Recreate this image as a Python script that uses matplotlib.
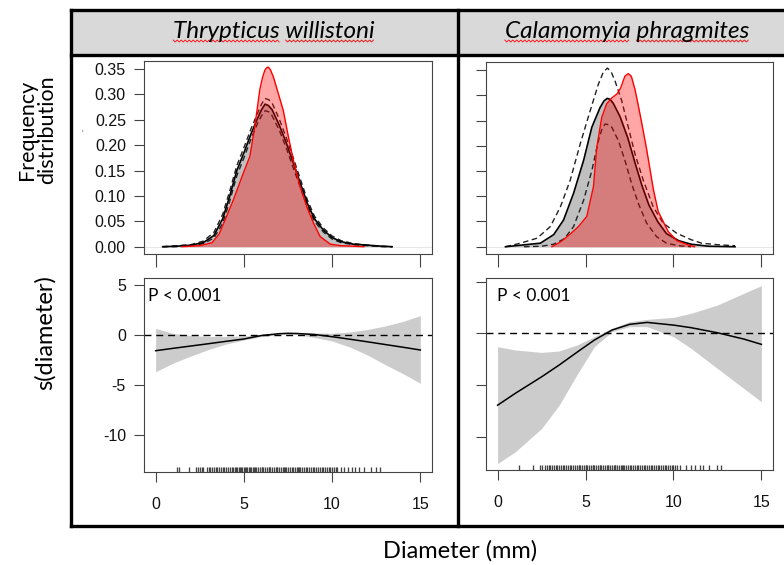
import numpy as np
import matplotlib
matplotlib.use('Agg')
import matplotlib.pyplot as plt
from matplotlib.lines import Line2D
from matplotlib.patches import Rectangle

# -------------------------------------------------------------------------
# Values
titles = ['Thrypticus willistoni', 'Calamomyia phragmites']

# top left: density of diameters (black = expected, dashed = bounds, red = observed)
tl_x = [0.4, 1.2, 2.0, 2.7, 3.3, 3.8, 4.2, 4.6, 5.0, 5.4, 5.8, 6.0, 6.2, 6.4, 6.6, 7.0, 7.4, 7.8,
        8.2, 8.6, 9.0, 9.5, 10.0, 10.5, 11.2, 12.0, 12.8, 13.4]
tl_mid = [0.0, 0.001, 0.003, 0.008, 0.022, 0.055, 0.10, 0.15, 0.185, 0.222, 0.255, 0.270, 0.281, 0.278,
          0.27, 0.24, 0.205, 0.165, 0.125, 0.085, 0.055, 0.033, 0.018, 0.01, 0.005, 0.003, 0.001, 0.0]
tl_up = [0.0, 0.002, 0.004, 0.011, 0.028, 0.064, 0.11, 0.16, 0.195, 0.232, 0.265, 0.281, 0.292, 0.290,
         0.283, 0.252, 0.215, 0.175, 0.133, 0.092, 0.06, 0.037, 0.021, 0.012, 0.006, 0.003, 0.001, 0.0]
tl_low = [0.0, 0.0, 0.002, 0.006, 0.017, 0.046, 0.09, 0.14, 0.175, 0.212, 0.245, 0.258, 0.268, 0.266,
          0.258, 0.23, 0.195, 0.155, 0.117, 0.078, 0.05, 0.029, 0.015, 0.008, 0.004, 0.002, 0.0, 0.0]
tl_red_x = [1.5, 2.5, 3.2, 3.6, 4.0, 4.4, 5.0, 5.34, 5.62, 5.9, 6.05, 6.19, 6.3, 6.38, 6.5, 6.67, 6.95,
            7.23, 7.52, 7.8, 8.18, 8.56, 8.94, 9.32, 9.9, 10.5, 11.2, 11.8]
tl_red_y = [0.0, 0.002, 0.008, 0.025, 0.058, 0.092, 0.148, 0.178, 0.237, 0.309, 0.333, 0.348, 0.353,
            0.354, 0.349, 0.335, 0.302, 0.269, 0.217, 0.171, 0.119, 0.079, 0.047, 0.02, 0.005, 0.002,
            0.001, 0.0]

# top right
tr_x = [0.45, 1.3, 2.43, 3.19, 3.75, 4.32, 4.89, 5.36, 5.83, 6.05, 6.24, 6.4, 6.58, 6.96, 7.4, 7.8,
        8.2, 8.6, 9.1, 9.6, 10.3, 11.0, 12.0, 13.5]
tr_mid = [0.0, 0.003, 0.007, 0.024, 0.053, 0.106, 0.171, 0.237, 0.276, 0.289, 0.294, 0.292, 0.284,
          0.258, 0.216, 0.168, 0.122, 0.083, 0.05, 0.026, 0.012, 0.005, 0.001, 0.0]
tr_up_x = [0.45, 1.3, 2.25, 3.0, 3.57, 4.13, 4.7, 5.26, 5.73, 6.0, 6.24, 6.45, 6.68, 7.06, 7.43, 7.81,
           8.28, 8.85, 9.41, 10.17, 11.0, 11.6, 12.5, 13.5]
tr_up = [0.0, 0.007, 0.017, 0.04, 0.079, 0.132, 0.204, 0.269, 0.322, 0.345, 0.354, 0.347, 0.328, 0.289,
         0.237, 0.184, 0.132, 0.079, 0.047, 0.027, 0.014, 0.007, 0.004, 0.002]
tr_low_x = [1.5, 2.5, 3.19, 3.8, 4.32, 4.89, 5.36, 5.73, 5.95, 6.11, 6.3, 6.49, 6.87, 7.24, 7.62, 8.0,
            8.47, 9.04, 9.6, 10.3, 11.0]
tr_low = [0.0, 0.001, 0.005, 0.016, 0.04, 0.092, 0.151, 0.21, 0.235, 0.243, 0.242, 0.237, 0.21, 0.171,
          0.125, 0.086, 0.047, 0.02, 0.007, 0.002, 0.0]
tr_red_x = [3.09, 3.6, 4.13, 4.6, 5.07, 5.45, 5.64, 5.92, 6.2, 6.5, 6.8, 7.0, 7.24, 7.43, 7.6, 7.81,
            8.0, 8.19, 8.47, 8.85, 9.13, 9.7, 10.2, 10.8, 11.2]
tr_red_y = [0.0, 0.01, 0.025, 0.04, 0.06, 0.119, 0.197, 0.256, 0.283, 0.295, 0.303, 0.315, 0.338, 0.343,
            0.338, 0.312, 0.28, 0.246, 0.194, 0.115, 0.07, 0.03, 0.012, 0.004, 0.0]

# bottom left: smooth term s(diameter) with confidence band
bl_x = [0, 1, 2, 3, 4, 5, 6, 7, 7.5, 8, 9, 10, 11, 12, 13, 14, 15]
bl_fit = [-1.57, -1.33, -1.1, -0.87, -0.63, -0.4, -0.05, 0.13, 0.17, 0.15, 0.05, -0.17, -0.42, -0.68,
          -0.95, -1.22, -1.5]
bl_up = [0.67, 0.15, -0.05, -0.15, -0.15, -0.1, 0.05, 0.2, 0.25, 0.25, 0.2, 0.17, 0.3, 0.55, 0.9, 1.35,
         1.93]
bl_low = [-3.67, -2.8, -2.1, -1.45, -0.9, -0.5, -0.15, 0.05, 0.07, 0.05, -0.25, -0.6, -1.2, -2.0, -2.95,
          -3.85, -4.83]

# bottom right
br_x = [0, 1, 2.5, 3.5, 4.5, 5.5, 6.5, 7.5, 8.5, 10, 11, 12.5, 14, 15]
br_fit = [-6.94, -5.8, -4.2, -3.06, -1.84, -0.65, 0.32, 0.87, 1.06, 0.8, 0.55, 0.06, -0.55, -1.06]
br_up = [-1.29, -1.6, -1.84, -1.7, -1.13, -0.32, 0.48, 1.13, 1.35, 1.55, 1.94, 2.74, 3.87, 4.61]
br_low = [-12.58, -11.45, -9.19, -6.94, -4.03, -1.29, 0.16, 0.65, 0.65, -0.32, -1.45, -3.39, -5.32,
          -6.61]

# rug of observed diameters
rug_left = [1.2, 1.3, 1.9, 2.3, 2.4, 2.5, 2.6, 2.7, 2.9, 3.0, 3.1, 3.2, 3.3, 3.4, 3.5, 3.6, 3.7, 3.8,
            3.9, 4.0, 4.1, 4.2, 4.3, 4.4, 4.5, 4.55, 4.6, 4.7, 4.8, 4.85, 4.9, 5.0, 5.05, 5.1, 5.2, 5.3,
            5.35, 5.4, 5.5, 5.6, 5.65, 5.7, 5.8, 5.9, 6.0, 6.05, 6.1, 6.2, 6.3, 6.4, 6.45, 6.5, 6.6,
            6.7, 6.8, 6.85, 6.9, 7.0, 7.1, 7.2, 7.3, 7.35, 7.4, 7.5, 7.6, 7.7, 7.8, 7.9, 8.0, 8.05,
            8.1, 8.2, 8.3, 8.4, 8.5, 8.6, 8.7, 8.8, 8.9, 9.0, 9.1, 9.2, 9.3, 9.4, 9.5, 9.6, 9.7, 9.8,
            9.9, 10.0, 10.1, 10.2, 10.3, 10.5, 10.7, 10.9, 11.1, 11.3, 11.5, 11.8, 12.2, 12.5, 12.7]
rug_right = [1.2, 2.0, 2.4, 2.5, 2.7, 2.8, 2.9, 3.0, 3.1, 3.2, 3.3, 3.4, 3.5, 3.6, 3.7, 3.8, 3.9, 4.0,
             4.1, 4.2, 4.3, 4.4, 4.5, 4.6, 4.65, 4.7, 4.8, 4.9, 5.0, 5.05, 5.1, 5.2, 5.3, 5.4, 5.45,
             5.5, 5.6, 5.7, 5.8, 5.85, 5.9, 6.0, 6.1, 6.2, 6.25, 6.3, 6.4, 6.5, 6.6, 6.65, 6.7, 6.8,
             6.9, 7.0, 7.1, 7.15, 7.2, 7.3, 7.4, 7.5, 7.6, 7.7, 7.8, 7.9, 8.0, 8.1, 8.2, 8.3, 8.4,
             8.5, 8.6, 8.7, 8.8, 8.9, 9.0, 9.1, 9.2, 9.3, 9.4, 9.5, 9.6, 9.7, 9.8, 9.9, 10.0, 10.1,
             10.2, 10.4, 10.7, 11.0, 11.25, 11.5, 11.7, 12.0, 12.45, 12.7]

p_text = 'P < 0.001'
x_ticks = [0, 5, 10, 15]
x_ticklabels = ['0', '5', '10', '15']
dens_ticks = [0.0, 0.05, 0.10, 0.15, 0.20, 0.25, 0.30, 0.35]
dens_ticklabels = ['0.00', '0.05', '0.10', '0.15', '0.20', '0.25', '0.30', '0.35']
s_ticks = [-10, -5, 0, 5]
s_ticklabels = ['-10', '-5', '0', '5']

# -------------------------------------------------------------------------
W, H = 784, 565
fig = plt.figure(figsize=(W / 100, H / 100), dpi=100)
fig.patch.set_facecolor('white')

TICKFONT = 'Liberation Sans'
LABFONT = 'Lato'
EDGE = '#444444'
TITLE_SIZE = 17.5


def px_box(x0, y0, x1, y1):
    return [x0 / W, 1 - y1 / H, (x1 - x0) / W, (y1 - y0) / H]


def fx(x):
    return x / W


def fy(y):
    return 1 - y / H


# header band and thick frame
fig.add_artist(Rectangle((fx(71), fy(55)), fx(800) - fx(71), fy(10) - fy(55),
                         transform=fig.transFigure, facecolor='#d9d9d9', edgecolor='none', zorder=0))
frame = [((71, 71), (10, 526)), ((71, 800), (10, 10)), ((71, 800), (526, 526)),
         ((71, 800), (55, 55)), ((458, 458), (10, 526))]
for xs, ys in frame:
    fig.add_artist(Line2D([fx(v) for v in xs], [fy(v) for v in ys], transform=fig.transFigure,
                          color='black', lw=2.4, solid_capstyle='projecting', zorder=5))


def style(ax, xlen, ylim, yticks, ylabels, xlabels):
    ax.set_xlim(-0.66, 15.66)
    ax.set_ylim(*ylim)
    for s in ax.spines.values():
        s.set_color(EDGE)
        s.set_linewidth(0.8)
    ax.set_xticks(x_ticks)
    ax.set_xticklabels(xlabels if xlabels else ['' for _ in x_ticks])
    ax.set_yticks(yticks)
    ax.set_yticklabels(ylabels if ylabels else ['' for _ in yticks])
    ax.tick_params(axis='x', direction='out', length=xlen, width=0.8, color=EDGE, pad=11)
    ax.tick_params(axis='y', direction='out', length=7, width=0.8, color=EDGE, pad=6)
    for lab in ax.get_xticklabels() + ax.get_yticklabels():
        lab.set_fontfamily(TICKFONT)
        lab.set_fontsize(11.5)
        lab.set_color('#111111')


def density(ax, gx, gy, up_x, up_y, low_x, low_y, rx, ry):
    ax.axhline(0, color='#e8e8e8', lw=0.8, zorder=0.5)
    ax.fill_between(gx, gy, color='#c0c0c0', lw=0, zorder=1)
    ax.plot(up_x, up_y, color='#222222', lw=1.0, dashes=(4, 2.5), zorder=2)
    ax.plot(low_x, low_y, color='#222222', lw=1.0, dashes=(4, 2.5), zorder=2)
    ax.plot(gx, gy, color='black', lw=1.2, zorder=2)
    ax.fill_between(rx, ry, color='red', alpha=0.35, lw=0, zorder=3)
    ax.plot(rx, ry, color='red', lw=1.0, zorder=4)


def smooth(ax, x, fit, up, low, rug, px):
    ax.fill_between(x, low, up, color='#cccccc', lw=0, zorder=1)
    ax.axhline(0, color='black', lw=1.0, dashes=(5, 3.5), zorder=2)
    ax.plot(x, fit, color='black', lw=1.1, zorder=3)
    ax.vlines(rug, 0, 0.025, transform=ax.get_xaxis_transform(), color='#444444', lw=0.95, zorder=2)
    ax.text(px, 0.905, p_text, transform=ax.transAxes, family=LABFONT, fontsize=12.5,
            ha='left', va='center')


ax_tl = fig.add_axes(px_box(144, 61, 432, 254))
ax_tr = fig.add_axes(px_box(486, 62, 773, 254))
ax_bl = fig.add_axes(px_box(144, 278, 432, 472))
ax_br = fig.add_axes(px_box(486, 278, 773, 470))

density(ax_tl, tl_x, tl_mid, tl_x, tl_up, tl_x, tl_low, tl_red_x, tl_red_y)
density(ax_tr, tr_x, tr_mid, tr_up_x, tr_up, tr_low_x, tr_low, tr_red_x, tr_red_y)
smooth(ax_bl, bl_x, bl_fit, bl_up, bl_low, rug_left, 0.015)
smooth(ax_br, br_x, br_fit, br_up, br_low, rug_right, 0.038)

style(ax_tl, 9.5, (-0.0144, 0.366), dens_ticks, dens_ticklabels, None)
style(ax_tr, 9.5, (-0.0144, 0.366), dens_ticks, None, None)
style(ax_bl, 7.2, (-13.7, 5.7), s_ticks, s_ticklabels, x_ticklabels)
style(ax_br, 7.2, (-13.2, 5.35), s_ticks, None, x_ticklabels)

# axis titles
fig.text(fx(37), fy(130), 'Frequency\ndistribution', rotation=90, ha='center', va='center',
         family=LABFONT, fontsize=15.5, linespacing=1.0)
fig.text(fx(82), fy(133), "'", ha='center', va='center', family=LABFONT, fontsize=6, color='#555555')
fig.text(fx(45), fy(333), 's(diameter)', rotation=90, ha='center', va='center',
         family=LABFONT, fontsize=17)
fig.text(fx(460), fy(551), 'Diameter (mm)', ha='center', va='center', family=LABFONT, fontsize=17)

# species headers with the spell-check squiggle underneath each word
heads = []
for name, cx in zip(titles, [274, 627]):
    heads.append(fig.text(fx(cx), fy(32), name, ha='center', va='center', family=LABFONT,
                          style='italic', fontsize=TITLE_SIZE, zorder=6))

fig.canvas.draw()
rend = fig.canvas.get_renderer()
for t in heads:
    bb = t.get_window_extent(rend)
    w1, w2 = t.get_text().split(' ')
    tmp = fig.text(0, 0, w1, family=LABFONT, style='italic', fontsize=TITLE_SIZE)
    wa = tmp.get_window_extent(rend).width
    tmp.set_text(w2)
    wb = tmp.get_window_extent(rend).width
    tmp.remove()
    ybase = bb.y0 + 1.5
    for a, b in [(bb.x0, bb.x0 + wa), (bb.x1 - wb, bb.x1)]:
        xs = np.arange(a, b, 2.0)
        ys = ybase + np.where(np.arange(len(xs)) % 2 == 0, 1.0, -1.0)
        fig.add_artist(Line2D(xs / W, ys / H, transform=fig.transFigure, color='red', lw=0.6,
                              zorder=6))

fig.savefig('out.png', dpi=100)
